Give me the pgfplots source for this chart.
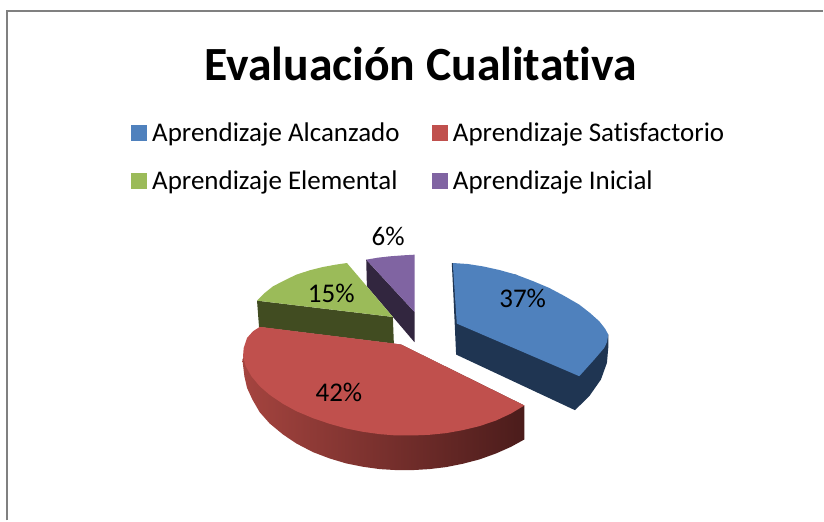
\documentclass[border=0pt]{standalone}
\usepackage{fontspec}
\setmainfont[Ligatures=NoCommon]{Carlito}
\usepackage{pgfplots}
\pgfplotsset{compat=1.18}
\definecolor{cBlue}{HTML}{4F81BD}
\definecolor{cBlueD}{HTML}{1F3552}
\definecolor{cRed}{HTML}{C0504D}
\definecolor{cRedL}{HTML}{A5443F}
\definecolor{cRedM}{HTML}{773230}
\definecolor{cRedD}{HTML}{4B1C1B}
\definecolor{cGreen}{HTML}{9BBB59}
\definecolor{cGreenD}{HTML}{414C21}
\definecolor{cPurple}{HTML}{8064A2}
\definecolor{cPurpleD}{HTML}{32263F}
\begin{document}
\begin{tikzpicture}
\begin{axis}[
  scale only axis, width=824pt, height=521pt,
  xmin=-690, xmax=1782, ymin=-660, ymax=903, y dir=reverse,
  hide axis, clip=false,
  legend columns=2,
  legend cell align=left,
  legend style={at={(axis cs:-297,-297)}, anchor=north west, draw=none, fill=none,
    font=\fontsize{27}{29}\selectfont, inner sep=0pt, outer sep=0pt,
    /tikz/column 2/.style={column sep=30pt},
    row sep=24pt},
  legend image code/.code={\fill[#1] (0pt,-7.5pt) rectangle (15pt,7.5pt);\path (19pt,0pt);},
  every axis plot/.append style={forget plot},
]
\addlegendimage{cBlue}\addlegendentry{Aprendizaje Alcanzado}
\addlegendimage{cRed}\addlegendentry{Aprendizaje Satisfactorio}
\addlegendimage{cGreen}\addlegendentry{Aprendizaje Elemental}
\addlegendimage{cPurple}\addlegendentry{Aprendizaje Inicial}

% page extent
\addplot[draw=none] coordinates {(-690,-660) (1782,903)};

% frame
\addplot[draw=black!50, line width=2pt] coordinates {(-667.5,903) (-667.5,-625.5) (1782,-625.5)};

% blue slice
\addplot[fill=cBlueD, draw=none] coordinates {(667,130) (672,230) (680,405) (1037,572) (1080,530) (1115,480) (1133,430) (1137,385) (1137,345) (860,165)} -- cycle;
\addplot[fill=cBlue, draw=none] coordinates {(670,130) (715,133) (760,140) (810,151) (860,165) (910,184) (960,205) (1005,229) (1050,255) (1082,280) (1110,305) (1128,328) (1137,345) (1133,368) (1125,385) (1095,420) (1050,470) (682,312)} -- cycle;

% purple slice
\addplot[fill=cPurpleD, draw=none] coordinates {(410,120) (555,277) (555,368) (412,200)} -- cycle;
\addplot[fill=cPurple, draw=none] coordinates {(410,120) (445,114) (480,110) (520,107) (555,105) (555,277)} -- cycle;

% green slice
\addplot[fill=cGreenD, draw=none] coordinates {(82,243) (88,322) (493,372) (490,292)} -- cycle;
\addplot[fill=cGreen, draw=none] coordinates {(82,243) (105,220) (130,200) (165,182) (200,165) (240,152) (280,142) (318,135) (352,130) (490,292)} -- cycle;

% red slice
\addplot[draw=none, left color=cRedL, middle color=cRedM, right color=cRedD] coordinates {(885,558) (885,660) (845,682) (800,702) (750,720) (700,733) (650,743) (600,749) (550,752) (500,752) (450,749) (400,742) (350,732) (300,717) (250,698) (200,672) (160,645) (120,612) (90,578) (68,540) (52,505) (44,470) (38,420) (90,322) (515,375)} -- cycle;
\addplot[fill=cRed, draw=none] coordinates {(885,558) (845,582) (800,603) (750,620) (700,632) (650,641) (600,646) (550,648) (500,648) (450,644) (400,637) (350,627) (300,613) (250,596) (200,575) (160,553) (120,526) (90,500) (65,470) (48,440) (40,410) (42,385) (52,355) (70,335) (90,322) (495,372) (515,375)} -- cycle;

% labels
\node[font=\fontsize{27}{29}\selectfont] at (axis cs:880,237) {37\%};
\node[font=\fontsize{27}{29}\selectfont] at (axis cs:328,518) {42\%};
\node[font=\fontsize{27}{29}\selectfont] at (axis cs:305,220) {15\%};
\node[font=\fontsize{27}{29}\selectfont] at (axis cs:476,50) {6\%};
% title
\node[font=\bfseries\fontsize{47.7}{52}\selectfont] at (axis cs:573,-468) {Evaluación Cualitativa};
\end{axis}
\end{tikzpicture}
\end{document}
